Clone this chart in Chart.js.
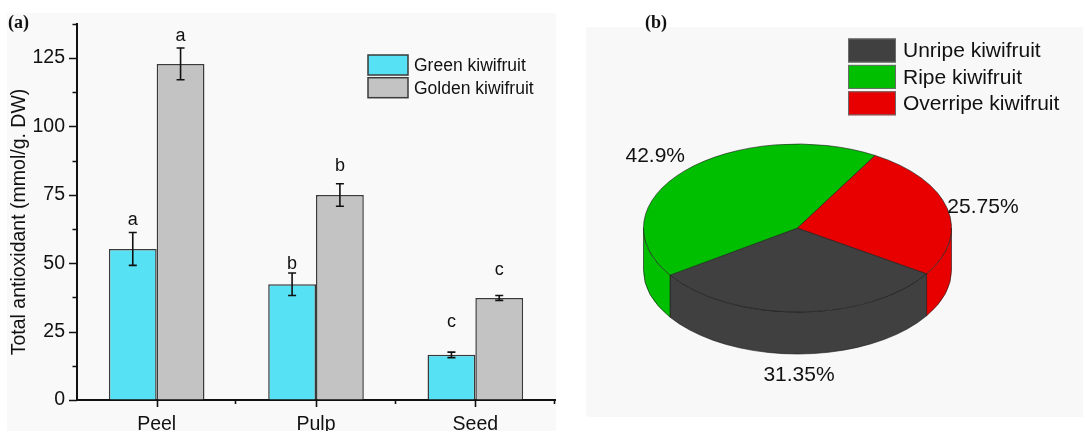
<!DOCTYPE html>
<html>
<head>
<meta charset="utf-8">
<script src="https://cdn.jsdelivr.net/npm/chart.js@4.4.1/dist/chart.umd.min.js"></script>
<style>
  html, body { margin: 0; padding: 0; background: #ffffff; }
  body { width: 1085px; height: 431px; position: relative; overflow: hidden; }
  #panelA { position: absolute; left: 7px; top: 13px; width: 549px; height: 418px; background: #f9f9f9; }
  #panelB { position: absolute; left: 586px; top: 27px; width: 497px; height: 390px; background: #f8f8f8; }
  #bar { position: absolute; left: 0; top: 0; }
  #pie { position: absolute; left: 580px; top: 0; }
</style>
</head>
<body>
<div id="panelA"></div>
<div id="panelB"></div>
<canvas id="bar" width="556" height="431"></canvas>
<canvas id="pie" width="505" height="431"></canvas>
<script>
// ---- (a) total antioxidant by fruit tissue ----
const categories = ['Peel', 'Pulp', 'Seed'];
const greenValues = [55.2, 42.3, 16.5];
const greenErrors = [6.0, 4.1, 1.0];
const goldenValues = [122.8, 74.9, 37.3];
const goldenErrors = [5.8, 4.1, 0.9];
const greenLetters = ['a', 'b', 'c'];
const goldenLetters = ['a', 'b', 'c'];
const seriesNames = ['Green kiwifruit', 'Golden kiwifruit'];
const yAxisMax = 137.5;
const yAxisStep = 12.5;
const yLabelStep = 25;

// ---- (b) share by ripeness stage ----
const stages = ['Unripe kiwifruit', 'Ripe kiwifruit', 'Overripe kiwifruit'];
const stageShares = [31.35, 42.9, 25.75];

const SANS = '"Liberation Sans", Arial, sans-serif';
const SERIF = '"Liberation Serif", "Times New Roman", serif';
const INK = '#111111';

// Error bars, significance letters, axis ticks, legend and titles for the bar panel
const barDecor = {
  id: 'barDecor',
  afterDatasetsDraw(chart, args, opts) {
    const ctx = chart.ctx;
    const y = chart.scales.y;
    chart.data.datasets.forEach((ds, di) => {
      chart.getDatasetMeta(di).data.forEach((bar, i) => {
        const v = ds.data[i], e = ds.errors[i];
        const x = bar.x;
        const hi = y.getPixelForValue(v + e), lo = y.getPixelForValue(v - e);
        ctx.save();
        ctx.strokeStyle = INK;
        ctx.lineWidth = 1.6;
        ctx.beginPath();
        ctx.moveTo(x, hi); ctx.lineTo(x, lo);
        ctx.moveTo(x - 4, hi); ctx.lineTo(x + 4, hi);
        ctx.moveTo(x - 4, lo); ctx.lineTo(x + 4, lo);
        ctx.stroke();
        ctx.font = '18px ' + SANS;
        ctx.fillStyle = INK;
        ctx.textAlign = 'center';
        ctx.textBaseline = 'alphabetic';
        ctx.fillText(ds.letters[i], x, y.getPixelForValue(opts.letterLevels[di][i]));
        ctx.restore();
      });
    });
  },
  afterDraw(chart, args, opts) {
    const ctx = chart.ctx;
    const xs = chart.scales.x, ys = chart.scales.y;
    const area = chart.chartArea;
    ctx.save();
    ctx.strokeStyle = INK;
    ctx.lineWidth = 1.6;
    ctx.beginPath();
    // y ticks: long at labelled values, short between
    ys.ticks.forEach(t => {
      const py = Math.round(ys.getPixelForValue(t.value)) + 0.5;
      const len = (Math.abs(t.value % yLabelStep) < 1e-6) ? 8 : 4.5;
      ctx.moveTo(area.left - len, py); ctx.lineTo(area.left, py);
    });
    // x ticks: long at category centres, short at boundaries
    categories.forEach((c, i) => {
      const px = Math.round(xs.getPixelForValue(i)) + 0.5;
      ctx.moveTo(px, area.bottom); ctx.lineTo(px, area.bottom + 7);
      const pb = Math.round(xs.getPixelForValue(i + 0.5)) - 0.5;
      ctx.moveTo(pb, area.bottom); ctx.lineTo(pb, area.bottom + 4);
    });
    ctx.stroke();

    // legend
    const lg = opts.legend;
    chart.data.datasets.forEach((ds, di) => {
      const by = lg.y + di * lg.step;
      ctx.fillStyle = ds.backgroundColor;
      ctx.fillRect(lg.x, by, lg.w, lg.h);
      ctx.strokeStyle = '#3a3a3a';
      ctx.lineWidth = 1.5;
      ctx.strokeRect(lg.x, by, lg.w, lg.h);
      ctx.fillStyle = INK;
      ctx.font = '17.5px ' + SANS;
      ctx.textAlign = 'left';
      ctx.textBaseline = 'middle';
      ctx.fillText(ds.label, lg.x + lg.w + 6, by + lg.h / 2 + 1);
    });

    // y axis title
    ctx.save();
    ctx.translate(opts.title.x, opts.title.y);
    ctx.rotate(-Math.PI / 2);
    ctx.font = '19.5px ' + SANS;
    ctx.fillStyle = INK;
    ctx.textAlign = 'center';
    ctx.textBaseline = 'middle';
    ctx.fillText(opts.title.text, 0, 0);
    ctx.restore();

    // panel tag
    ctx.font = 'bold 18px ' + SERIF;
    ctx.fillStyle = INK;
    ctx.textAlign = 'left';
    ctx.textBaseline = 'alphabetic';
    ctx.fillText('(a)', 8, 27.5);
    ctx.restore();
  }
};

new Chart(document.getElementById('bar'), {
  type: 'bar',
  data: {
    labels: categories,
    datasets: [
      { label: seriesNames[0], data: greenValues, errors: greenErrors, letters: greenLetters,
        backgroundColor: '#57e1f4', borderColor: '#3a3a3a', borderWidth: 1.5 },
      { label: seriesNames[1], data: goldenValues, errors: goldenErrors, letters: goldenLetters,
        backgroundColor: '#c3c3c3', borderColor: '#3a3a3a', borderWidth: 1.5 }
    ]
  },
  options: {
    responsive: false,
    animation: false,
    events: [],
    devicePixelRatio: 1,
    layout: { padding: { left: 0, top: 15, right: 1, bottom: 0 } },
    datasets: { bar: { categoryPercentage: 0.6, barPercentage: 1.0 } },
    scales: {
      x: {
        type: 'category',
        offset: true,
        grid: { display: true, drawOnChartArea: false, drawTicks: false },
        border: { display: true, color: INK, width: 2 },
        ticks: { font: { family: SANS, size: 19.5 }, color: INK, padding: 13 },
        afterFit: s => { s.height = 31; }
      },
      y: {
        min: 0,
        max: yAxisMax,
        grid: { display: true, drawOnChartArea: false, drawTicks: false },
        border: { display: true, color: INK, width: 2 },
        ticks: {
          stepSize: yAxisStep,
          maxTicksLimit: 30,
          autoSkip: false,
          padding: 12,
          font: { family: SANS, size: 19.5 },
          color: INK,
          callback: v => (Math.abs(v % yLabelStep) < 1e-6 ? String(v) : '')
        },
        afterFit: s => { s.width = 77; }
      }
    },
    plugins: {
      legend: { display: false },
      tooltip: { enabled: false },
      barDecor: {
        letterLevels: [[63.8, 47.7, 26.8], [131.2, 83.5, 45.8]],
        legend: { x: 368, y: 55, w: 40, h: 20, step: 22.7 },
        title: { x: 20, y: 222, text: 'Total antioxidant (mmol/g. DW)' }
      }
    }
  },
  plugins: [barDecor]
});

// Tilted pie: the library draws the slices into a vertically squashed context,
// and the front walls of the disc are added underneath them.
function frontSpans(s, e) {
  const out = [];
  for (let n = -1; n <= 2; n++) {
    const lo = Math.max(s, 2 * Math.PI * n), hi = Math.min(e, 2 * Math.PI * n + Math.PI);
    if (hi > lo) out.push([lo, hi]);
  }
  return out;
}

const pie3d = {
  id: 'pie3d',
  beforeDatasetsDraw(chart, args, opts) {
    const ctx = chart.ctx;
    const arcs = chart.getDatasetMeta(0).data;
    const cx = arcs[0].x, cy = arcs[0].y;
    const k = opts.squash;
    const d = opts.depth / k;
    ctx.save();
    ctx.translate(0, opts.centerY);
    ctx.scale(1, k);
    ctx.translate(0, -cy);
    const ds = chart.data.datasets[0];
    arcs.forEach((a, i) => {
      const R = a.outerRadius;
      frontSpans(a.startAngle, a.endAngle).forEach(([lo, hi]) => {
        ctx.beginPath();
        ctx.arc(cx, cy, R, lo, hi);
        ctx.lineTo(cx + R * Math.cos(hi), cy + d + R * Math.sin(hi));
        ctx.arc(cx, cy + d, R, hi, lo, true);
        ctx.closePath();
        ctx.fillStyle = ds.backgroundColor[i];
        ctx.fill();
        ctx.strokeStyle = '#1a1a1a';
        ctx.lineWidth = 0.8;
        ctx.stroke();
      });
    });
  },
  afterDatasetsDraw(chart, args, opts) {
    chart.ctx.restore();
  },
  afterDraw(chart, args, opts) {
    const ctx = chart.ctx;
    const arcs = chart.getDatasetMeta(0).data;
    const ds = chart.data.datasets[0];
    const k = opts.squash;
    ctx.save();
    // percentage labels outside each slice
    const fs = 21, capH = 0.716 * fs;
    ctx.font = fs + 'px ' + SANS;
    ctx.fillStyle = INK;
    arcs.forEach((a, i) => {
      const m = (a.startAngle + a.endAngle) / 2;
      const c = Math.cos(m), sn = Math.sin(m);
      const ax = a.x + a.outerRadius * c;
      const ay = opts.centerY + (a.outerRadius * k + 12) * sn + (sn > 0 ? opts.depth : 0);
      ctx.textAlign = c > 0.3 ? 'left' : (c < -0.3 ? 'right' : 'center');
      ctx.textBaseline = 'alphabetic';
      const base = sn < -0.3 ? ay : (sn > 0.3 ? ay + capH : ay + capH / 2);
      ctx.fillText(ds.data[i] + '%', ax, base);
    });
    // legend
    const lg = opts.legend;
    chart.data.labels.forEach((lab, i) => {
      const by = lg.y + i * lg.step;
      ctx.fillStyle = ds.backgroundColor[i];
      ctx.fillRect(lg.x, by, lg.w, lg.h);
      ctx.strokeStyle = '#6a6a6a';
      ctx.lineWidth = 1;
      ctx.strokeRect(lg.x + 0.5, by + 0.5, lg.w - 1, lg.h - 1);
      ctx.fillStyle = INK;
      ctx.font = '21px ' + SANS;
      ctx.textAlign = 'left';
      ctx.textBaseline = 'middle';
      ctx.fillText(lab, lg.x + lg.w + 7, by + lg.h / 2 + 1);
    });
    // panel tag
    ctx.font = 'bold 18px ' + SERIF;
    ctx.textAlign = 'left';
    ctx.textBaseline = 'alphabetic';
    ctx.fillStyle = INK;
    ctx.fillText('(b)', 65, 27.5);
    ctx.restore();
  }
};

new Chart(document.getElementById('pie'), {
  type: 'pie',
  data: {
    labels: stages,
    datasets: [{
      data: stageShares,
      backgroundColor: ['#404040', '#00bf00', '#e80000'],
      borderColor: '#1a1a1a',
      borderWidth: 0.8,
      clip: false
    }]
  },
  options: {
    responsive: false,
    animation: false,
    events: [],
    devicePixelRatio: 1,
    rotation: 123,
    radius: 154,
    layout: { padding: { left: 0, right: 70, top: 0, bottom: 0 } },
    plugins: {
      legend: { display: false },
      tooltip: { enabled: false },
      pie3d: {
        centerY: 228,
        squash: 84 / 154,
        depth: 42,
        legend: { x: 268, y: 38.5, w: 48, h: 24, step: 26.4 }
      }
    }
  },
  plugins: [pie3d]
});
</script>
</body>
</html>
